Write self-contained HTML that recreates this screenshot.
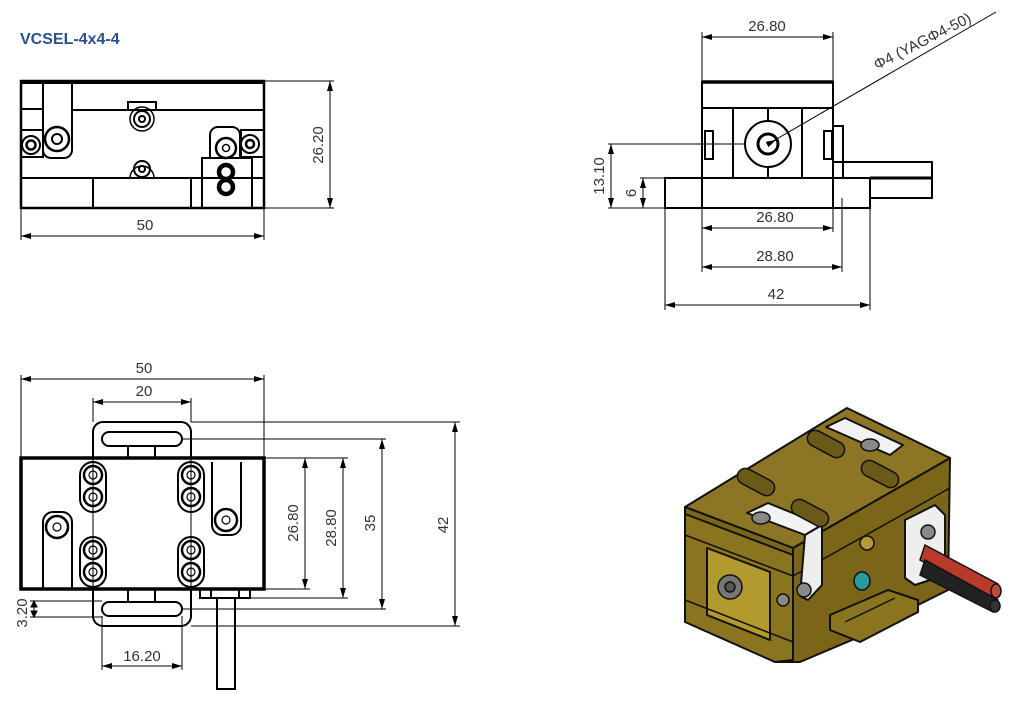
<!DOCTYPE html>
<html><head><meta charset="utf-8"><style>
html,body{margin:0;padding:0;background:#fff;}
svg{display:block;}
text{font-family:"Liberation Sans",sans-serif;}
.d{font-family:"Liberation Sans Narrow","Liberation Sans",sans-serif;font-size:15px;fill:#333;}
</style></head><body>
<svg width="1016" height="711" viewBox="0 0 1016 711" xmlns="http://www.w3.org/2000/svg">
<defs>
<marker id="a" viewBox="0 0 10 6" refX="10" refY="3" markerWidth="10" markerHeight="6" orient="auto-start-reverse" markerUnits="userSpaceOnUse"><path d="M0,0L10,3L0,6z" fill="#000"/></marker>
</defs>
<text x="20" y="44" font-size="16" font-weight="bold" fill="#2b4f8e">VCSEL-4x4-4</text>

<!-- TOP LEFT VIEW -->
<g fill="none" stroke="#000" stroke-width="2">
<rect x="21" y="81" width="243" height="127" stroke-width="2.5"/>
<line x1="21" y1="82" x2="264" y2="82" stroke-width="4"/>
<line x1="72" y1="110" x2="264" y2="110"/>
<line x1="21" y1="109" x2="43" y2="109"/>
<line x1="21" y1="178" x2="264" y2="178"/>
<path d="M43,81V150a8,8 0 0 0 8,8H64a8,8 0 0 0 8,-8V81"/>
<rect x="21" y="130" width="22" height="27"/>
<path d="M128,110V102H156V110"/>
<line x1="93" y1="178" x2="93" y2="208"/>
<line x1="191" y1="178" x2="191" y2="208"/>
<path d="M210,158V135a8,8 0 0 1 8,-8H232a8,8 0 0 1 8,8V158"/>
<rect x="202" y="158" width="50" height="50"/>
<rect x="241" y="130" width="23" height="27"/>
<line x1="252" y1="178" x2="264" y2="178"/>
</g>
<g fill="none" stroke="#000">
<circle cx="31" cy="145" r="9" stroke-width="2"/><circle cx="31" cy="145" r="4.5" stroke-width="2.5"/>
<circle cx="57" cy="139" r="12" stroke-width="2.5"/><circle cx="57" cy="139" r="5" stroke-width="2"/>
<circle cx="142" cy="119" r="12" stroke-width="1.5"/><circle cx="142" cy="119" r="8" stroke-width="2"/><circle cx="142" cy="119" r="3" stroke-width="2"/>
<path d="M130,178A12,12 0 0 1 154,178" stroke-width="1.5"/><circle cx="142" cy="169" r="8" stroke-width="2"/><circle cx="142" cy="169" r="3" stroke-width="2"/>
<circle cx="226" cy="148" r="10" stroke-width="2.5"/><circle cx="226" cy="148" r="3.5" stroke-width="1.5"/>
<circle cx="226" cy="172" r="7" stroke-width="4.5"/>
<circle cx="226" cy="187" r="7" stroke-width="4.5"/>
<circle cx="250" cy="144" r="9" stroke-width="2"/><circle cx="250" cy="144" r="4" stroke-width="2.5"/>
</g>
<g stroke="#000" stroke-width="1" fill="none">
<line x1="21" y1="208" x2="21" y2="240"/><line x1="264" y1="208" x2="264" y2="240"/>
<line x1="21" y1="236" x2="264" y2="236" marker-start="url(#a)" marker-end="url(#a)"/>
<line x1="264" y1="81" x2="334" y2="81"/><line x1="264" y1="208" x2="334" y2="208"/>
<line x1="330" y1="81" x2="330" y2="208" marker-start="url(#a)" marker-end="url(#a)"/>
</g>
<text class="d" x="145" y="230" text-anchor="middle">50</text>
<text class="d" transform="translate(323,145) rotate(-90)" text-anchor="middle">26.20</text>

<!-- TOP RIGHT VIEW -->
<g fill="none" stroke="#000" stroke-width="2">
<rect x="702" y="82" width="131" height="126"/>
<line x1="702" y1="82" x2="833" y2="82" stroke-width="3.5"/>
<line x1="702" y1="108" x2="833" y2="108"/>
<line x1="733" y1="108" x2="733" y2="178"/>
<line x1="802" y1="108" x2="802" y2="178"/>
<line x1="768" y1="108" x2="768" y2="122"/><line x1="768" y1="167" x2="768" y2="178"/>
<rect x="665" y="178" width="205" height="30"/>
<path d="M833,162H932V198H870"/>
<line x1="870" y1="178" x2="932" y2="178" stroke-width="3"/>
<path d="M833,126H843V178"/>
<rect x="705" y="131" width="8" height="28"/>
<rect x="824" y="131" width="8" height="28"/>
<circle cx="768" cy="144" r="23"/>
<circle cx="768" cy="144" r="10" stroke-width="3"/>
</g>
<g stroke="#000" stroke-width="1" fill="none">
<line x1="702" y1="82" x2="702" y2="32"/><line x1="833" y1="82" x2="833" y2="32"/>
<line x1="702" y1="37" x2="833" y2="37" marker-start="url(#a)" marker-end="url(#a)"/>
<line x1="768" y1="144" x2="996" y2="12"/>
<line x1="608" y1="144" x2="745" y2="144"/>
<line x1="611" y1="144" x2="611" y2="208" marker-start="url(#a)" marker-end="url(#a)"/>
<line x1="608" y1="208" x2="665" y2="208"/>
<line x1="640" y1="178" x2="665" y2="178"/>
<line x1="643" y1="178" x2="643" y2="208" marker-start="url(#a)" marker-end="url(#a)"/>
<line x1="702" y1="208" x2="702" y2="272"/><line x1="833" y1="208" x2="833" y2="232"/>
<line x1="842" y1="198" x2="842" y2="272"/>
<line x1="665" y1="208" x2="665" y2="310"/><line x1="870" y1="208" x2="870" y2="310"/>
<line x1="702" y1="228" x2="833" y2="228" marker-start="url(#a)" marker-end="url(#a)"/>
<line x1="702" y1="267" x2="842" y2="267" marker-start="url(#a)" marker-end="url(#a)"/>
<line x1="665" y1="305" x2="870" y2="305" marker-start="url(#a)" marker-end="url(#a)"/>
<line x1="768" y1="144" x2="776" y2="140" marker-end="url(#a)"/>
</g>
<text class="d" x="767" y="31" text-anchor="middle">26.80</text>
<text class="d" transform="translate(877,70) rotate(-27)">Φ4 (YAGΦ4-50)</text>
<text class="d" transform="translate(604,176) rotate(-90)" text-anchor="middle">13.10</text>
<text class="d" transform="translate(636,193) rotate(-90)" text-anchor="middle">6</text>
<text class="d" x="775" y="222" text-anchor="middle">26.80</text>
<text class="d" x="775" y="261" text-anchor="middle">28.80</text>
<text class="d" x="776" y="299" text-anchor="middle">42</text>

<!-- BOTTOM LEFT VIEW -->
<g fill="none" stroke="#000" stroke-width="2">
<path d="M93,458V432a10,10 0 0 1 10,-10H181a10,10 0 0 1 10,10V458"/>
<rect x="102" y="432" width="80" height="14" rx="7"/>
<line x1="128" y1="446" x2="128" y2="458"/><line x1="155" y1="446" x2="155" y2="458"/>
<path d="M93,589V616a10,10 0 0 0 10,10H181a10,10 0 0 0 10,-10V589"/>
<rect x="102" y="602" width="80" height="14" rx="7"/>
<line x1="128" y1="589" x2="128" y2="602"/><line x1="155" y1="589" x2="155" y2="602"/>
<rect x="21" y="458" width="243" height="131" stroke-width="3.5"/>
<path d="M43,589V522a10,10 0 0 1 10,-10H62a10,10 0 0 1 10,10V589"/>
<path d="M212,462V525a10,10 0 0 0 10,10H231a10,10 0 0 0 10,-10V462"/>
<rect x="80" y="462" width="26" height="50" rx="13"/>
<rect x="80" y="537" width="26" height="50" rx="13"/>
<rect x="178" y="462" width="26" height="50" rx="13"/>
<rect x="178" y="537" width="26" height="50" rx="13"/>
<rect x="200" y="589" width="50" height="9"/>
<line x1="211" y1="589" x2="211" y2="598"/><line x1="239" y1="589" x2="239" y2="598"/>
<rect x="217" y="598" width="18" height="91"/>
</g>
<g fill="none" stroke="#000">
<g stroke-width="2.5">
<circle cx="93" cy="475" r="9"/><circle cx="93" cy="497" r="9"/><circle cx="93" cy="550" r="9"/><circle cx="93" cy="572" r="9"/>
<circle cx="191" cy="475" r="9"/><circle cx="191" cy="497" r="9"/><circle cx="191" cy="550" r="9"/><circle cx="191" cy="572" r="9"/>
<circle cx="57" cy="527" r="11"/><circle cx="226" cy="520" r="11"/>
</g>
<g stroke-width="1.2">
<circle cx="93" cy="475" r="4"/><circle cx="93" cy="497" r="4"/><circle cx="93" cy="550" r="4"/><circle cx="93" cy="572" r="4"/>
<circle cx="191" cy="475" r="4"/><circle cx="191" cy="497" r="4"/><circle cx="191" cy="550" r="4"/><circle cx="191" cy="572" r="4"/>
<circle cx="57" cy="527" r="4"/><circle cx="226" cy="520" r="4"/>
</g>
</g>
<g stroke="#000" stroke-width="1" fill="none">
<line x1="21" y1="458" x2="21" y2="375"/><line x1="264" y1="458" x2="264" y2="375"/>
<line x1="21" y1="379" x2="264" y2="379" marker-start="url(#a)" marker-end="url(#a)"/>
<line x1="93" y1="422" x2="93" y2="398"/><line x1="191" y1="422" x2="191" y2="398"/>
<line x1="93" y1="402" x2="191" y2="402" marker-start="url(#a)" marker-end="url(#a)"/>
<line x1="93" y1="458" x2="93" y2="589"/><line x1="191" y1="458" x2="191" y2="589"/>
<line x1="264" y1="458" x2="310" y2="458"/><line x1="264" y1="589" x2="310" y2="589"/>
<line x1="305" y1="458" x2="305" y2="589" marker-start="url(#a)" marker-end="url(#a)"/>
<line x1="264" y1="458" x2="348" y2="458"/><line x1="250" y1="598" x2="348" y2="598"/>
<line x1="343" y1="458" x2="343" y2="598" marker-start="url(#a)" marker-end="url(#a)"/>
<line x1="182" y1="439" x2="386" y2="439"/><line x1="182" y1="609" x2="386" y2="609"/>
<line x1="382" y1="439" x2="382" y2="609" marker-start="url(#a)" marker-end="url(#a)"/>
<line x1="191" y1="422" x2="460" y2="422"/><line x1="191" y1="626" x2="460" y2="626"/>
<line x1="455" y1="422" x2="455" y2="626" marker-start="url(#a)" marker-end="url(#a)"/>
<line x1="30" y1="601" x2="102" y2="601"/><line x1="30" y1="617" x2="102" y2="617"/>
<line x1="34" y1="601" x2="34" y2="617"/>
<path d="M31,607L34,601L37,607z M31,611L34,617L37,611z" fill="#000"/>
<line x1="102" y1="616" x2="102" y2="670"/><line x1="182" y1="616" x2="182" y2="670"/>
<line x1="102" y1="666" x2="182" y2="666" marker-start="url(#a)" marker-end="url(#a)"/>
</g>
<text class="d" x="144" y="373" text-anchor="middle">50</text>
<text class="d" x="144" y="396" text-anchor="middle">20</text>
<text class="d" transform="translate(298,523) rotate(-90)" text-anchor="middle">26.80</text>
<text class="d" transform="translate(336,528) rotate(-90)" text-anchor="middle">28.80</text>
<text class="d" transform="translate(375,523) rotate(-90)" text-anchor="middle">35</text>
<text class="d" transform="translate(448,525) rotate(-90)" text-anchor="middle">42</text>
<text class="d" transform="translate(27,613) rotate(-90)" text-anchor="middle">3.20</text>
<text class="d" x="142" y="661" text-anchor="middle">16.20</text>

<!-- ISOMETRIC VIEW -->
<g stroke="#111" stroke-width="2" stroke-linejoin="round">
<!-- right face -->
<polygon points="793,548 950,458 948,590 918,605 918,612 800,662 775,662 793,640" fill="#7a6518"/>
<!-- tab on right bottom -->
<polygon points="830,615 888,590 918,600 918,612 860,642 830,630" fill="#8a7420"/>
<path d="M845,622L895,598" stroke-width="1.5" fill="none"/>
<!-- front face -->
<polygon points="685,507 793,548 793,660 775,662 685,622" fill="#8a7420"/>
<polygon points="707,548 770,572 770,640 707,615" fill="#b39a2e"/>
<line x1="685" y1="535" x2="793" y2="576" stroke-width="1.5"/>
<line x1="685" y1="600" x2="793" y2="642" stroke-width="1.5"/>
<line x1="793" y1="576" x2="950" y2="488" stroke-width="1.5"/>
<!-- top face -->
<polygon points="685,507 847,408 950,458 793,548" fill="#8c7524"/>
<polygon points="685,507 793,548 793,555 685,514" fill="#7a6518"/>
<!-- white clamps -->
<polygon points="747,513 805,535 822,525 768,503" fill="#f2f2f2"/>
<polygon points="805,535 822,525 822,585 808,600 800,596" fill="#eeeeee"/>
<polygon points="826,427 890,455 903,445 845,418" fill="#f2f2f2"/>
<polygon points="905,520 935,505 945,515 945,575 915,585 905,578" fill="#eeeeee"/>
</g>
<g fill="#6a5a18" stroke="#111" stroke-width="1.5">
<rect x="736" y="474" width="40" height="16" rx="8" transform="rotate(28 756 482)"/>
<rect x="790" y="505" width="40" height="16" rx="8" transform="rotate(28 810 513)"/>
<rect x="806" y="436" width="40" height="16" rx="8" transform="rotate(28 826 444)"/>
<rect x="860" y="466" width="40" height="16" rx="8" transform="rotate(28 880 474)"/>
</g>
<g stroke="#111" stroke-width="1.5">
<ellipse cx="761" cy="518" rx="9" ry="6" fill="#888"/>
<ellipse cx="870" cy="445" rx="9" ry="6" fill="#888"/>
<circle cx="730" cy="587" r="12" fill="#777"/><circle cx="730" cy="587" r="5" fill="#555"/>
<circle cx="804" cy="590" r="7" fill="#888"/>
<circle cx="783" cy="600" r="6" fill="#888"/>
<circle cx="928" cy="532" r="7" fill="#888"/>
<ellipse cx="862" cy="581" rx="8" ry="9" fill="#2a9a9a"/>
<circle cx="867" cy="543" r="7" fill="#b59a3a"/>
</g>
<g stroke="#111" stroke-width="1.5">
<polygon points="925,545 998,584 993,598 920,560" fill="#b83a2a"/>
<polygon points="925,560 998,600 993,612 920,575" fill="#222"/>
<ellipse cx="996" cy="591" rx="5" ry="7" fill="#c04a3a"/>
<ellipse cx="995" cy="606" rx="5" ry="6" fill="#333"/>
</g>
</svg>
</body></html>
